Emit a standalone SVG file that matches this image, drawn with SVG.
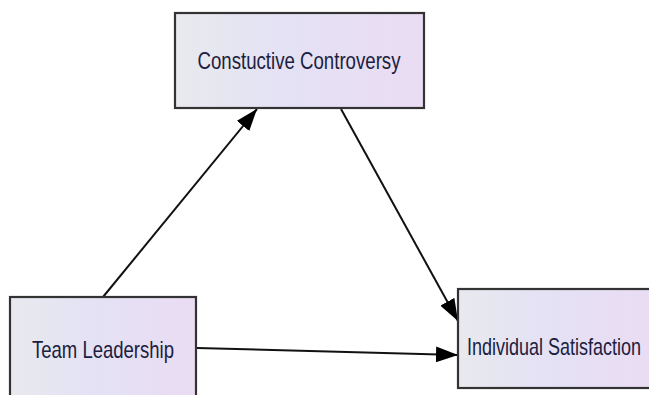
<svg xmlns="http://www.w3.org/2000/svg" width="649" height="395" viewBox="0 0 649 395">
<style>
.box{stroke:#333;stroke-width:2.2;fill:url(#g)}
.lbl{font-family:"Liberation Sans",Arial,sans-serif;font-size:24px;fill:#1c2040;text-anchor:middle}
.edge{stroke:#111;stroke-width:2;fill:none;marker-end:url(#ah)}
</style>
<defs>
<linearGradient id="g" x1="0" y1="0" x2="1" y2="0">
<stop offset="0" stop-color="#e8eaee"/>
<stop offset="0.4" stop-color="#e4e2f4"/>
<stop offset="1" stop-color="#eadcf3"/>
</linearGradient>
<marker id="ah" markerWidth="22" markerHeight="16" refX="22" refY="8" orient="auto" markerUnits="userSpaceOnUse">
<path d="M0,0 L22,8 L0,16 Z" fill="#000"/>
</marker>
</defs>
<g id="edges">
<line class="edge" x1="103" y1="297" x2="257" y2="109"/>
<line class="edge" x1="341" y1="109" x2="458" y2="321"/>
<line class="edge" x1="197" y1="348" x2="458" y2="355"/>
</g>
<g id="n-controversy">
<rect class="box" x="175" y="13" width="249" height="95"/>
<text class="lbl" x="299" y="69" textLength="203" lengthAdjust="spacingAndGlyphs">Constuctive Controversy</text>
</g>
<g id="n-leadership">
<rect class="box" x="10" y="297" width="186" height="110"/>
<text class="lbl" x="103" y="358" textLength="142" lengthAdjust="spacingAndGlyphs">Team Leadership</text>
</g>
<g id="n-satisfaction">
<rect class="box" x="458" y="289" width="200" height="99"/>
<text class="lbl" x="554" y="355" textLength="174" lengthAdjust="spacingAndGlyphs">Individual Satisfaction</text>
</g>
</svg>
